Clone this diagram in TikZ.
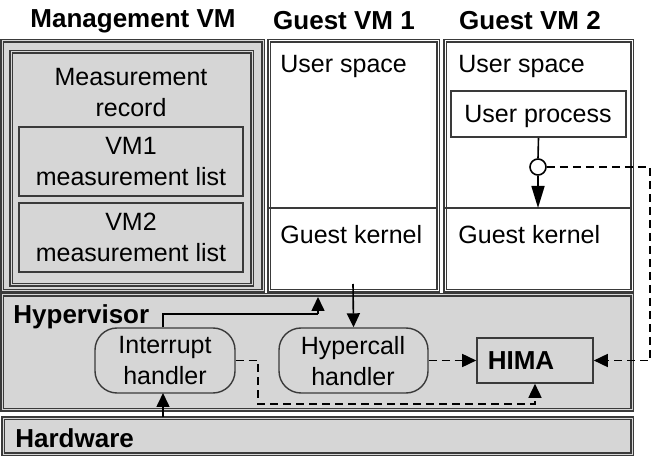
\documentclass[tikz,border=0pt]{standalone}
\usepackage{fontspec}
\setmainfont{Liberation Sans}
\usetikzlibrary{arrows.meta}
\usetikzlibrary{fit}
\definecolor{boxgray}{HTML}{D6D6D6}
\definecolor{linegray}{HTML}{3A3A3A}
\tikzstyle{layer}=[draw=linegray, line width=0.55pt, double=boxgray, double distance=0.5pt, fill=boxgray, inner sep=0pt]
\tikzstyle{vmpart}=[draw=linegray, line width=0.55pt, double=white, double distance=0.5pt, fill=white, inner sep=0pt]
\tikzstyle{listbox}=[draw=linegray, line width=0.8pt, fill=boxgray, inner sep=0pt]
\tikzstyle{handler}=[draw=linegray, line width=0.7pt, fill=boxgray, rounded corners=11pt, inner sep=0pt]
\tikzstyle{txt}=[font=\fontsize{12.5}{15.5}\selectfont, inner sep=0pt, align=center]
\tikzstyle{ttl}=[font=\fontsize{13}{15}\selectfont\bfseries, inner sep=0pt]
\tikzstyle{arr}=[draw=black, line width=0.8pt, -{Triangle[length=7pt,width=6.5pt]}]
\tikzstyle{longarr}=[arr, -{Triangle[length=11pt,width=6.5pt]}]
\tikzstyle{dasharr}=[arr, dash pattern=on 4pt off 2.5pt]

\begin{document}
\begin{tikzpicture}[x=0.5pt, y=-0.5pt]
  \useasboundingbox (0,0) rectangle (652,458);
  % titles
  \node[ttl] (mgmtttl) at (133,21) {Management VM};
  \node[ttl] (vmonettl) at (344,21) {Guest VM 1};
  \node[ttl] (vmtwottl) at (530,21) {Guest VM 2};
  % management VM
  \node[layer, fit={(2,41) (263,291)}] (mgmt) {};
  \node[layer, fit={(11,52) (252,285)}] (record) {};
  \node[txt] (recordtxt) at (131,93) {Measurement\\record};
  \node[listbox, fit={(19,127) (243,196)}] (listone) {};
  \node[txt] (listonetxt) at (131,162) {VM1\\measurement list};
  \node[listbox, fit={(19,203) (243,272)}] (listtwo) {};
  \node[txt] (listtwotxt) at (131,237) {VM2\\measurement list};
  % guest VMs
  \node[vmpart, fit={(269,41) (438,291)}] (vmone) {};
  \draw[draw=linegray, line width=1pt] (269,208) -- (438,208);
  \node[txt, anchor=west] (usone) at (280,67) {User space};
  \node[txt, anchor=west] (gkone) at (280,235) {Guest kernel};
  \node[vmpart, fit={(445,41) (632,291)}] (vmtwo) {};
  \draw[draw=linegray, line width=1pt] (445,208) -- (632,208);
  \node[txt, anchor=west] (ustwo) at (458,67) {User space};
  \node[txt, anchor=west] (gktwo) at (458,235) {Guest kernel};
  \node[draw=linegray, line width=0.8pt, fill=white, fit={(451,91) (626,137)}, inner sep=0pt] (uproc) {};
  \node[txt] (uproctxt) at (538,116) {User process};
  \node[draw=black, line width=0.8pt, fill=white, circle, minimum size=8pt, inner sep=0pt] (junc) at (538,167) {};
  % hypervisor and hardware
  \node[layer, fit={(2,295) (632,410)}] (hyp) {};
  \node[ttl, anchor=west] (hyptxt) at (13,317) {Hypervisor};
  \node[layer, fit={(3,418) (632,454)}] (hw) {};
  \node[ttl, anchor=west] (hwtxt) at (15,438) {Hardware};
  \node[handler, fit={(95,328) (235,393)}] (irq) {};
  \node[txt] (irqtxt) at (165,361) {Interrupt\\handler};
  \node[handler, fit={(279,328) (428,393)}] (hcall) {};
  \node[txt] (hcalltxt) at (353,361) {Hypercall\\handler};
  \node[draw=linegray, line width=0.8pt, fill=boxgray, fit={(477,338) (593,383)}, inner sep=0pt] (hima) {};
  \node[ttl] (himatxt) at (521,361) {HIMA};
  % connectors
  \coordinate (kdown) at (538,208);
  \coordinate (kone) at (353,284);
  \coordinate (kin) at (318,297);
  \coordinate (kbend) at (318,314);
  \coordinate (dright) at (650,167);
  \coordinate (dlow) at (258,404);
  \draw[draw=black, line width=0.8pt] (uproc.south) -- (junc.north);
  \draw[longarr] (junc.south) -- (kdown);
  \draw[arr] (kone) -- (hcall.north);
  \draw[arr, -] (irq.north -| 163,0) |- (kbend);
  \draw[arr] (kbend) -- (kin);
  \draw[arr] (hw.north -| 163,0) -- (163,393);
  \draw[dasharr] (junc.east) -- (dright) |- (hima.east);
  \draw[dasharr] (hcall.east) -- (hima.west);
  \draw[dasharr] (irq.east) -| (dlow) -| (hima.south);
\end{tikzpicture}
\end{document}
